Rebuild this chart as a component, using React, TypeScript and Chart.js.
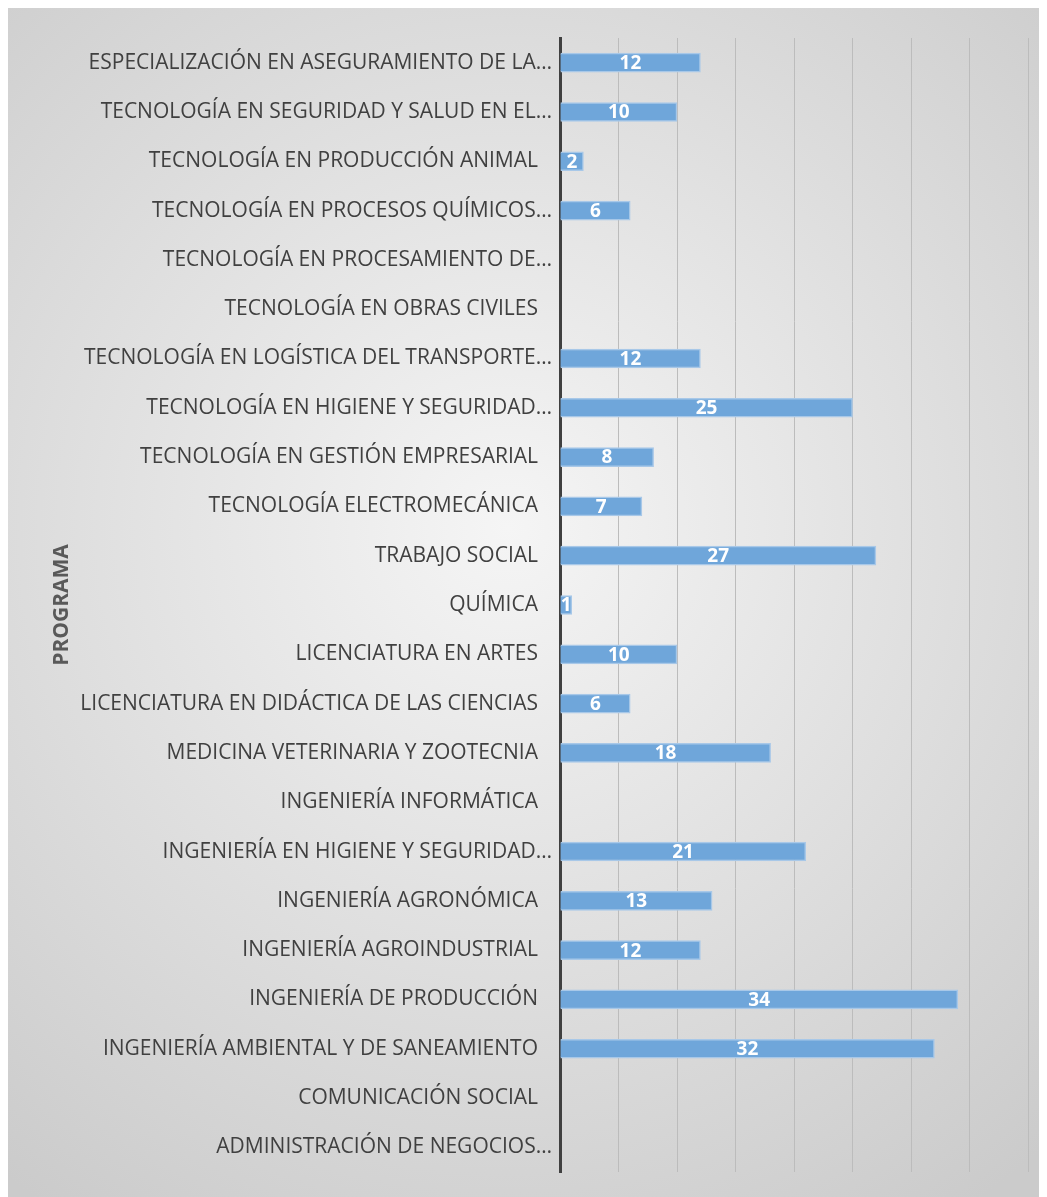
import React, { useEffect, useRef } from "react";
import { Chart, registerables } from "chart.js";

Chart.register(...registerables);

const programs: string[] = [
  "ESPECIALIZACIÓN EN ASEGURAMIENTO DE LA…",
  "TECNOLOGÍA EN SEGURIDAD Y SALUD EN EL…",
  "TECNOLOGÍA EN PRODUCCIÓN ANIMAL",
  "TECNOLOGÍA EN PROCESOS QUÍMICOS…",
  "TECNOLOGÍA EN PROCESAMIENTO DE…",
  "TECNOLOGÍA EN OBRAS CIVILES",
  "TECNOLOGÍA EN LOGÍSTICA DEL TRANSPORTE…",
  "TECNOLOGÍA EN HIGIENE Y SEGURIDAD…",
  "TECNOLOGÍA EN GESTIÓN EMPRESARIAL",
  "TECNOLOGÍA ELECTROMECÁNICA",
  "TRABAJO SOCIAL",
  "QUÍMICA",
  "LICENCIATURA EN ARTES",
  "LICENCIATURA EN DIDÁCTICA DE LAS CIENCIAS",
  "MEDICINA VETERINARIA Y ZOOTECNIA",
  "INGENIERÍA INFORMÁTICA",
  "INGENIERÍA EN HIGIENE Y SEGURIDAD…",
  "INGENIERÍA AGRONÓMICA",
  "INGENIERÍA AGROINDUSTRIAL",
  "INGENIERÍA DE PRODUCCIÓN",
  "INGENIERÍA AMBIENTAL Y DE SANEAMIENTO",
  "COMUNICACIÓN SOCIAL",
  "ADMINISTRACIÓN DE NEGOCIOS…",
];

const students: number[] = [12, 10, 2, 6, 0, 0, 12, 25, 8, 7, 27, 1, 10, 6, 18, 0, 21, 13, 12, 34, 32, 0, 0];

const axisTitle = "PROGRAMA";
const xMin = 0;
const xMax = 40;
const xStep = 5;

const LABEL_FONT = "'Open Sans', sans-serif";

const backgroundPlugin = {
  id: "bgGradient",
  beforeDraw(chart: any) {
    const { ctx, width, height } = chart;
    ctx.save();
    const g = ctx.createRadialGradient(500, 520, 0, 500, 520, 820);
    g.addColorStop(0, "#f5f5f5");
    g.addColorStop(1, "#cbcbcb");
    ctx.fillStyle = g;
    ctx.fillRect(0, 0, width, height);
    ctx.restore();
  },
};

const valueLabelPlugin = {
  id: "valueLabels",
  afterDatasetsDraw(chart: any) {
    const ctx = chart.ctx;
    const meta = chart.getDatasetMeta(0);
    ctx.save();
    ctx.fillStyle = "#ffffff";
    ctx.font = "bold 19px 'Open Sans', sans-serif";
    ctx.textAlign = "center";
    ctx.textBaseline = "middle";
    meta.data.forEach((bar: any, i: number) => {
      const v = students[i];
      if (!v) return;
      const { x, base, y } = bar.getProps(["x", "base", "y"], true);
      ctx.fillText(String(v), (x + base) / 2, y + 1);
    });
    ctx.restore();
  },
};

export default function App() {
  const ref = useRef<HTMLCanvasElement | null>(null);

  useEffect(() => {
    if (!ref.current) return;
    const chart = new Chart(ref.current, {
      type: "bar",
      data: {
        labels: programs,
        datasets: [
          {
            data: students,
            backgroundColor: "#6fa6da",
            borderColor: "#a8c8e8",
            borderWidth: 1.5,
            barThickness: 19,
          },
        ],
      },
      options: {
        indexAxis: "y",
        animation: false,
        responsive: false,
        devicePixelRatio: 1,
        layout: { padding: { top: 30, right: 19, bottom: 25, left: 0 } },
        plugins: {
          legend: { display: false },
          tooltip: { enabled: false },
        },
        scales: {
          x: {
            min: xMin,
            max: xMax,
            ticks: { display: false, stepSize: xStep },
            grid: { color: "#bcbcbc", lineWidth: 1, drawTicks: false },
            border: { display: false },
          },
          y: {
            afterFit: (scale: any) => {
              scale.width = 552;
            },
            ticks: {
              autoSkip: false,
              padding: 8,
              color: "#404040",
              font: { family: LABEL_FONT, size: 21 },
              callback: (_v: any, i: number) => {
                const l = programs[i];
                return l.endsWith("…") ? l : l + "\u2002\u2006";
              },
            },
            grid: { display: false, drawTicks: false },
            border: { display: true, color: "#404040", width: 3 },
            title: {
              display: true,
              text: axisTitle,
              color: "#595959",
              font: { family: "'Open Sans', sans-serif", size: 21, weight: "bold" },
              padding: { top: 41, bottom: 0 },
            },
          },
        },
      },
      plugins: [backgroundPlugin, valueLabelPlugin],
    });
    return () => chart.destroy();
  }, []);

  return (
    <div style={{ width: 1039, height: 1189 }}>
      <canvas ref={ref} width={1039} height={1189} style={{ display: "block" }} />
    </div>
  );
}
